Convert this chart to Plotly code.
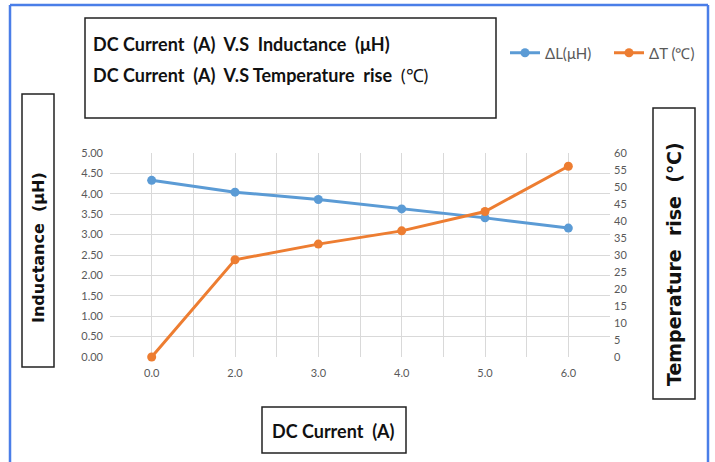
import plotly.graph_objects as go

W, H = 715, 462

# ---- data ----
current_labels = ["0.0", "2.0", "3.0", "4.0", "5.0", "6.0"]
inductance_uH = [4.33, 4.04, 3.86, 3.63, 3.41, 3.16]
temp_rise_C = [0, 28.6, 33.2, 37.1, 42.8, 56.1]
left_ticks = [0, 0.5, 1, 1.5, 2, 2.5, 3, 3.5, 4, 4.5, 5]
right_ticks = list(range(0, 61, 5))

x_pos = list(range(len(current_labels)))
minor_grid = [i - 0.5 for i in range(len(current_labels) + 1)]


def X(px):
    return px / W


def Y(py):
    return 1 - py / H


BLUE = "#5b9bd5"
ORANGE = "#ed7d31"
GRID = "#d9d9d9"
TICK = "#595959"
TICKFONT = dict(family="Lato", size=11, color=TICK)

fig = go.Figure()
fig.add_trace(go.Scatter(
    x=x_pos, y=inductance_uH, name="ΔL(μH)", mode="lines+markers",
    line=dict(color=BLUE, width=3), marker=dict(color=BLUE, size=9),
    cliponaxis=False, yaxis="y"))
fig.add_trace(go.Scatter(
    x=x_pos, y=temp_rise_C, name="ΔT (℃)", mode="lines+markers",
    line=dict(color=ORANGE, width=3), marker=dict(color=ORANGE, size=9),
    cliponaxis=False, yaxis="y2"))

fig.update_layout(
    width=W, height=H,
    margin=dict(l=0, r=0, t=0, b=0, autoexpand=False),
    paper_bgcolor="white", plot_bgcolor="white",
    showlegend=True,
    legend=dict(orientation="h", xref="container", yref="container",
                x=X(505), y=Y(53), xanchor="left", yanchor="middle",
                font=dict(family="Lato", size=15, color=TICK),
                entrywidth=59, entrywidthmode="pixels", bgcolor="rgba(0,0,0,0)"),
    xaxis=dict(domain=[X(110), X(610)], range=[-0.5, 5.5],
               tickmode="array", tickvals=x_pos, ticktext=current_labels,
               showgrid=True, gridcolor=GRID, gridwidth=1,
               minor=dict(tickmode="array", tickvals=minor_grid, showgrid=True,
                          gridcolor=GRID, gridwidth=1),
               zeroline=False, showline=False, ticks="", ticklabelstandoff=8,
               tickfont=TICKFONT, automargin=False, fixedrange=True),
    yaxis=dict(domain=[Y(357), Y(153)], range=[0, 5],
               tickmode="array", tickvals=left_ticks,
               ticktext=[f"{v:.2f}" for v in left_ticks],
               showgrid=True, gridcolor=GRID, zeroline=False, showline=False,
               ticks="", ticklabelstandoff=6, tickfont=TICKFONT, automargin=False),
    yaxis2=dict(overlaying="y", side="right", range=[0, 60],
                tickmode="array", tickvals=right_ticks,
                showgrid=False, zeroline=False, showline=False,
                ticks="", ticklabelstandoff=3, tickfont=TICKFONT, automargin=False),
)

shapes = []
# blue outer frame (open at the bottom)
frame = dict(type="line", xref="paper", yref="paper",
             line=dict(color="#4a7ee8", width=2.5))
shapes.append({**frame, "x0": X(10), "y0": Y(5), "x1": X(708), "y1": Y(5)})
shapes.append({**frame, "x0": X(10), "y0": Y(5), "x1": X(10), "y1": Y(462)})
shapes.append({**frame, "x0": X(708), "y0": Y(5), "x1": X(708), "y1": Y(462)})
# black boxes
for (x0, y0, x1, y1) in [(85, 18, 496, 118), (22, 94, 54, 367),
                         (653, 108, 695, 399), (262, 407, 406, 453)]:
    shapes.append(dict(type="rect", xref="paper", yref="paper",
                       x0=X(x0), y0=Y(y0), x1=X(x1), y1=Y(y1),
                       line=dict(color="#222222", width=1.5), fillcolor="rgba(0,0,0,0)"))
fig.update_layout(shapes=shapes)

NB = "\u00a0"
TITLEFONT = dict(family="Lato", size=18, color="#111111")
ann = [
    dict(text=f"<b>DC Current{NB}{NB}(A){NB}{NB}V.S{NB}{NB}Inductance{NB}{NB}(μH)</b>",
         x=X(91), y=Y(44), xanchor="left", yanchor="middle", font=TITLEFONT),
    dict(text=f"<b>DC Current{NB}{NB}(A){NB}{NB}V.S Temperature{NB}{NB}rise{NB}{NB}</b>(℃)",
         x=X(91), y=Y(75), xanchor="left", yanchor="middle", font=TITLEFONT),
    dict(text=f"<b>Inductance{NB}{NB}(μH)</b>", textangle=-90,
         x=X(38), y=Y(248), xanchor="center", yanchor="middle",
         font=dict(family="DejaVu Sans", size=16, color="#111111")),
    dict(text=f"<b>Temperature{NB}{NB}rise{NB}{NB}(℃)</b>", textangle=-90,
         x=X(674), y=Y(264), xanchor="center", yanchor="middle",
         font=dict(family="DejaVu Sans", size=19, color="#111111")),
    dict(text=f"<b>DC Current{NB}{NB}(A)</b>",
         x=X(333), y=Y(431), xanchor="center", yanchor="middle", font=TITLEFONT),
]
for a in ann:
    a.update(xref="paper", yref="paper", showarrow=False)
fig.update_layout(annotations=ann)

fig.write_html(
    "out.html",
    config={"displayModeBar": False},
    post_script="document.body.style.margin='0';document.body.style.overflow='hidden';",
)
